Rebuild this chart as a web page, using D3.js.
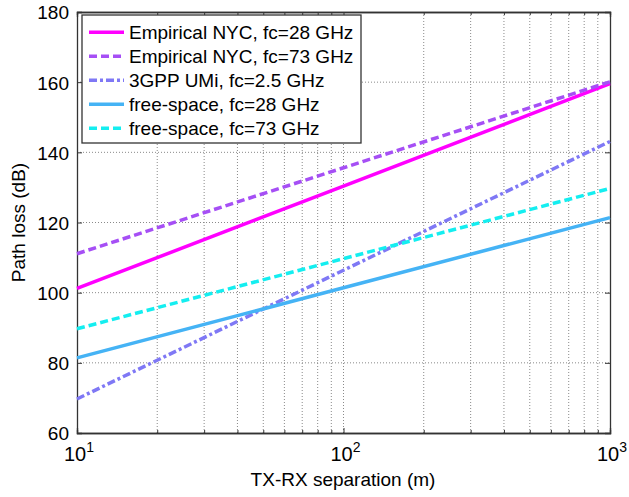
<!DOCTYPE html>
<html><head><meta charset="utf-8">
<script src="https://cdn.jsdelivr.net/npm/d3@7"></script>
<style>body{margin:0;background:#fff}svg{display:block}text{font-family:"Liberation Sans",Arial,sans-serif;fill:#000}</style>
</head><body><svg id="c" width="629" height="497"></svg>
<script>
const distances = [10, 100, 1000];
const seriesNames = ["Empirical NYC, fc=28 GHz","Empirical NYC, fc=73 GHz","3GPP UMi, fc=2.5 GHz","free-space, fc=28 GHz","free-space, fc=73 GHz"];
const empNYC28 = [101.2, 130.4, 159.6];
const empNYC73 = [111.1, 135.6, 160.1];
const umi25 = [69.7, 106.4, 143.1];
const free28 = [81.4, 101.4, 121.4];
const free73 = [89.7, 109.7, 129.7];
const yTicks = [60, 80, 100, 120, 140, 160, 180];
const xMajor = [10, 100, 1000];
const xExpLabels = ["1", "2", "3"];

const colors = ["#ff00ff", "#a64ff5", "#7f78f5", "#45b3f5", "#14eef0"];
const dashes = [null, "8,4", "8,3,3,3", null, "8,4"];
const values = [empNYC28, empNYC73, umi25, free28, free73];

const L = 77, R = 610, T = 12, B = 433;
const FS = 19;
const svg = d3.select("#c");
const x = d3.scaleLog().domain([10, 1000]).range([L, R]);
const y = d3.scaleLinear().domain([60, 180]).range([B, T]);

const minor = [];
[10, 100].forEach(b => { for (let k = 2; k <= 9; k++) minor.push(b * k); });

// grid
const g = svg.append("g");
minor.concat([100]).forEach(v => g.append("line").attr("x1", x(v)).attr("x2", x(v)).attr("y1", T).attr("y2", B)
  .attr("stroke", "#8a8a8a").attr("stroke-width", 1).attr("stroke-dasharray", "1,2"));
yTicks.slice(1, -1).forEach(v => g.append("line").attr("x1", L).attr("x2", R).attr("y1", y(v)).attr("y2", y(v))
  .attr("stroke", "#8a8a8a").attr("stroke-width", 1).attr("stroke-dasharray", "1,2"));

// axes
const axL = svg.append("g").attr("transform", `translate(${L},0)`)
  .call(d3.axisLeft(y).tickValues(yTicks).tickSize(-5).tickPadding(8));
const axR = svg.append("g").attr("transform", `translate(${R},0)`)
  .call(d3.axisRight(y).tickValues(yTicks).tickSize(-5).tickFormat(""));
const axB = svg.append("g").attr("transform", `translate(0,${B})`)
  .call(d3.axisBottom(x).tickValues(xMajor).tickSize(-5).tickFormat(""));
const axT = svg.append("g").attr("transform", `translate(0,${T})`)
  .call(d3.axisTop(x).tickValues(xMajor).tickSize(-5).tickFormat(""));
const axBm = svg.append("g").attr("transform", `translate(0,${B})`)
  .call(d3.axisBottom(x).tickValues(minor).tickSize(-3).tickFormat(""));
const axTm = svg.append("g").attr("transform", `translate(0,${T})`)
  .call(d3.axisTop(x).tickValues(minor).tickSize(-3).tickFormat(""));
[axL, axR, axB, axT, axBm, axTm].forEach(a => {
  a.selectAll("path").attr("stroke", "#333").attr("stroke-width", 1.3);
  a.selectAll("line").attr("stroke", "#333");
  a.selectAll("text").attr("font-size", FS).attr("font-family", "Liberation Sans, Arial, sans-serif").attr("fill", "#000");
});
axL.selectAll("text").attr("dy", "0.36em");

// x tick labels with exponents
xMajor.forEach((v, i) => {
  const t = svg.append("text").attr("x", x(v) + 2).attr("y", 461).attr("text-anchor", "middle").attr("font-size", FS + 1);
  t.append("tspan").text("10");
  t.append("tspan").attr("dy", -9).attr("font-size", 14).text(xExpLabels[i]);
});

// lines
const line = d3.line().x((d, i) => x(distances[i])).y(d => y(d));
values.forEach((vals, i) => {
  svg.append("path").datum(vals).attr("d", line).attr("fill", "none")
    .attr("stroke", colors[i]).attr("stroke-width", 3.5)
    .attr("stroke-dasharray", dashes[i]);
});

// labels
svg.append("text").attr("x", 343).attr("y", 486).attr("text-anchor", "middle").attr("font-size", FS).text("TX-RX separation (m)");
svg.append("text").attr("transform", `translate(25,${(T + B) / 2}) rotate(-90)`).attr("text-anchor", "middle").attr("font-size", FS).text("Path loss (dB)");

// legend
const lg = svg.append("g");
lg.append("rect").attr("x", 82).attr("y", 15).attr("width", 279).attr("height", 128).attr("fill", "#fff").attr("stroke", "#333").attr("stroke-width", 1.3);
seriesNames.forEach((n, i) => {
  const yy = 32.3 + i * 24;
  lg.append("line").attr("x1", 89).attr("x2", 124).attr("y1", yy).attr("y2", yy)
    .attr("stroke", colors[i]).attr("stroke-width", 3.5).attr("stroke-dasharray", dashes[i]);
  lg.append("text").attr("x", 129).attr("y", yy).attr("dy", "0.36em").attr("font-size", FS).text(n);
});
</script></body></html>
